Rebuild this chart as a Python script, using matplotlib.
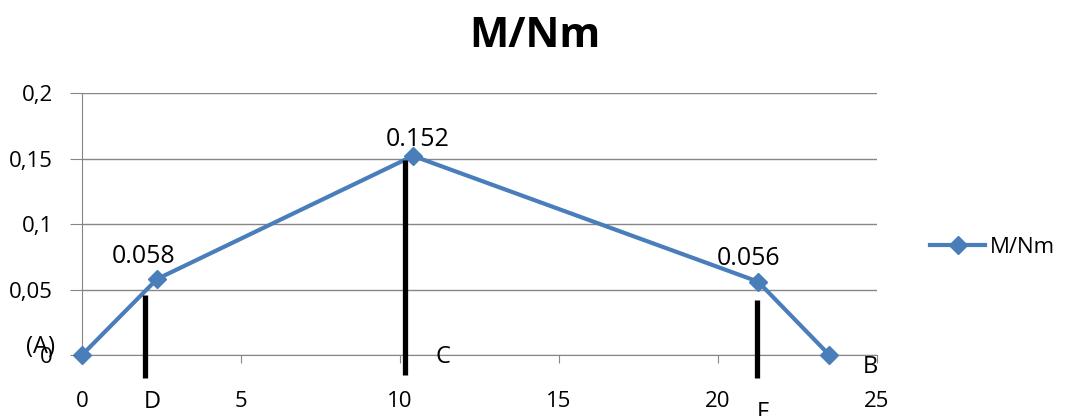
import matplotlib.pyplot as plt
from matplotlib.ticker import FuncFormatter

plt.rcParams['font.family'] = ['Open Sans', 'DejaVu Sans']

# moment diagram data
x_pos = [0, 2.36, 10.41, 21.26, 23.5]
moment = [0, 0.058, 0.152, 0.056, 0]
value_labels = ['', '0.058', '0.152', '0.056', '']
# label offsets in points
label_dx = [0, -10, 3.5, -7, 0]
label_dy = [0, 16, 12, 17, 0]

# black section markers (x, top, bottom)
cut_x = [1.98, 10.16, 21.24]
cut_top = [0.0458, 0.149, 0.042]
cut_bottom = [-0.0176, -0.0153, -0.0176]

# point letters
letters = ['(A)', 'D', 'C', 'F', 'B']
letter_x = [-1.32, 2.2, 11.35, 21.4, 24.8]
letter_y = [0.006, -0.036, -0.0015, -0.044, -0.009]

blue = '#4a7ebb'
grey = '#868686'

fig = plt.figure(figsize=(10.65, 4.16), dpi=100)
ax = fig.add_axes([0.077, 0.1466, 0.7465, 0.6298])

ax.plot(x_pos, moment, color=blue, lw=3, marker='D', ms=9, label='M/Nm',
        zorder=3, clip_on=False)

for xv, yv, t, dx, dy in zip(x_pos, moment, value_labels, label_dx, label_dy):
    if t:
        ax.annotate(t, (xv, yv), xytext=(dx, dy), textcoords='offset points',
                    ha='center', va='center', fontsize=18)

for xv, t0, b0 in zip(cut_x, cut_top, cut_bottom):
    ax.plot([xv, xv], [b0, t0], color='black', lw=3.8, clip_on=False, zorder=4,
            solid_capstyle='butt')

for t, xv, yv in zip(letters, letter_x, letter_y):
    ax.text(xv, yv, t, ha='center', va='center', fontsize=17, clip_on=False)

ax.set_xlim(0, 25)
ax.set_ylim(0, 0.2)
ax.set_xticks([0, 5, 10, 15, 20, 25])
ax.set_yticks([0, 0.05, 0.1, 0.15, 0.2])
ax.yaxis.set_major_formatter(FuncFormatter(lambda v, p: ('%g' % round(v, 3)).replace('.', ',')))

ax.grid(axis='y', color=grey, lw=1)
ax.set_axisbelow(True)
for s in ['top', 'right']:
    ax.spines[s].set_visible(False)
for s in ['left', 'bottom']:
    ax.spines[s].set_color(grey)
ax.tick_params(axis='x', length=6, color=grey, pad=20, labelsize=16)
ax.tick_params(axis='y', length=9, color=grey, pad=12, labelsize=16)

fig.suptitle('M/Nm', x=0.5025, y=0.962, fontsize=30, fontweight='bold')

fig.legend(loc='center left', bbox_to_anchor=(0.873, 0.406), frameon=False,
           fontsize=16, handlelength=2.5, handletextpad=0.2,
           borderpad=0, borderaxespad=0)

fig.savefig('out.png', dpi=100)
